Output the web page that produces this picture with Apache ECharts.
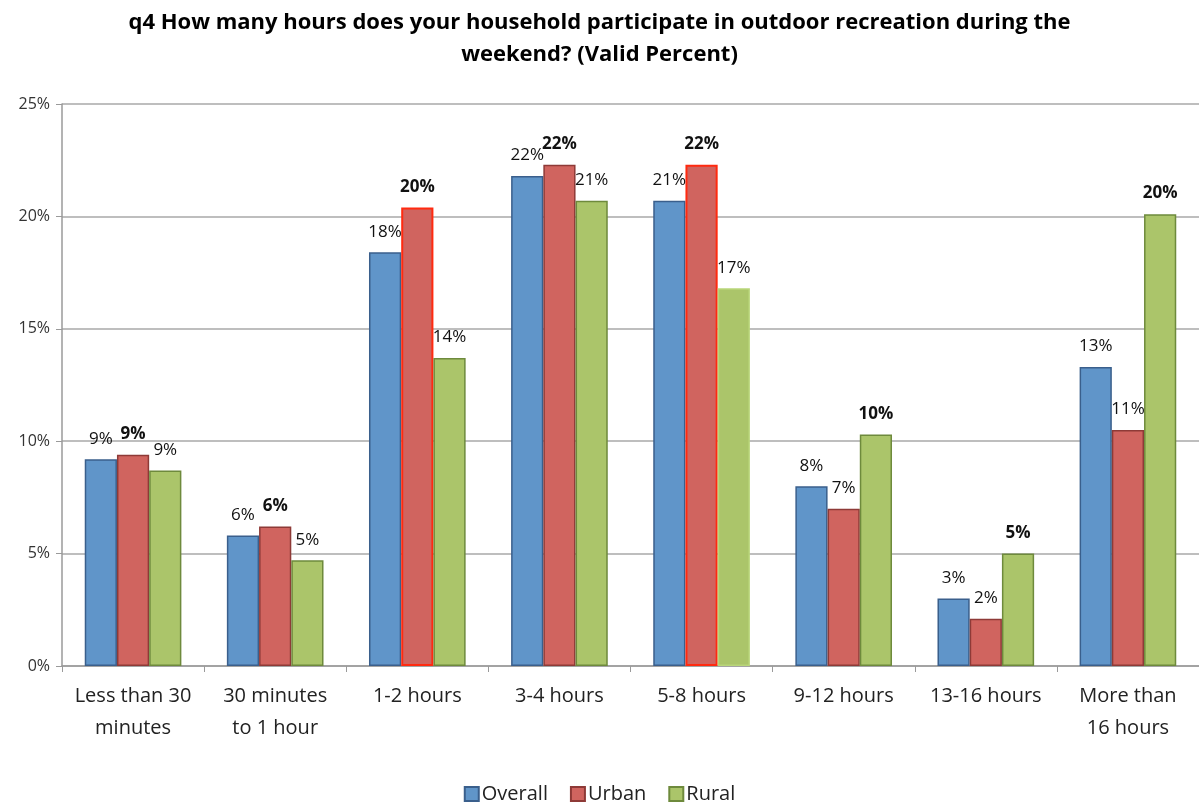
<!DOCTYPE html>
<html>
<head>
<meta charset="utf-8">
<script src="https://cdn.jsdelivr.net/npm/echarts@6/dist/echarts.min.js"></script>
<style>
  html, body { margin: 0; padding: 0; background: #fff; }
  #chart { width: 1199px; height: 806px; }
</style>
</head>
<body>
<div id="chart"></div>
<script>
const categories = ['Less than 30\nminutes', '30 minutes\nto 1 hour', '1-2 hours', '3-4 hours', '5-8 hours', '9-12 hours', '13-16 hours', 'More than\n16 hours']
const overall = [9.2, 5.8, 18.4, 21.8, 20.7, 8.0, 3.0, 13.3]
const urban = [9.4, 6.2, 20.4, 22.3, 22.3, 7.0, 2.1, 10.5]
const rural = [8.7, 4.7, 13.7, 20.7, 16.8, 10.3, 5.0, 20.1]
const yTicks = [0, 5, 10, 15, 20, 25]

const font = '"Open Sans", "Liberation Sans", sans-serif'

// the largest value in each category gets a bold label
const isMax = (i, v) => v >= Math.max(overall[i], urban[i], rural[i])

// bars Excel outlined in bright red / left unframed
const redFrame = [2, 4]
const plainFrame = { rural: [4] }

const buildData = (values, key) => values.map((v, i) => {
  const item = { value: v, label: { fontWeight: isMax(i, v) ? 'bold' : 'normal' } }
  if (key === 'urban' && redFrame.includes(i)) {
    item.itemStyle = { borderColor: '#ff2a10', borderWidth: 2 }
  }
  if (plainFrame[key] && plainFrame[key].includes(i)) {
    item.itemStyle = { borderColor: '#b9d67a', borderWidth: 1.5 }
  }
  return item
})

const seriesDefs = [
  { name: 'Overall', key: 'overall', values: overall, color: '#6095c9', border: '#3a5f8c' },
  { name: 'Urban', key: 'urban', values: urban, color: '#d0645f', border: '#8e3a37' },
  { name: 'Rural', key: 'rural', values: rural, color: '#abc56a', border: '#6e8a3c' },
]

const chart = echarts.init(document.getElementById('chart'))

chart.setOption({
  animation: false,
  textStyle: { fontFamily: font },
  title: {
    text: 'q4 How many hours does your household participate in outdoor recreation during the\nweekend? (Valid Percent)',
    left: 'center',
    top: 2,
    textStyle: { fontSize: 22, fontWeight: 'bold', color: '#000', lineHeight: 32, fontFamily: font },
  },
  legend: {
    bottom: -3,
    left: 'center',
    itemWidth: 14,
    itemHeight: 14,
    itemGap: 22,
    icon: 'rect',
    textStyle: { fontSize: 20, color: '#222', padding: [0, 0, 0, -2] },
    data: seriesDefs.map((s) => s.name),
  },
  grid: { left: 62, right: 0, top: 104, bottom: 140 },
  xAxis: {
    type: 'category',
    data: categories,
    axisLine: { lineStyle: { color: '#9a9a9a', width: 1.5 } },
    axisTick: { show: true, length: 6, lineStyle: { color: '#9a9a9a' } },
    axisLabel: { interval: 0, fontSize: 20, color: '#222', lineHeight: 32, margin: 14 },
  },
  yAxis: {
    type: 'value',
    min: yTicks[0],
    max: yTicks[yTicks.length - 1],
    interval: 5,
    axisLine: { show: true, lineStyle: { color: '#9a9a9a', width: 1.5 } },
    axisTick: { show: true, length: 6, lineStyle: { color: '#9a9a9a' } },
    splitLine: { lineStyle: { color: '#a8a8a8', width: 1.5 } },
    axisLabel: { fontSize: 16, color: '#333', margin: 12, formatter: '{value}%' },
  },
  series: seriesDefs.map((s) => ({
    name: s.name,
    type: 'bar',
    barGap: '0%',
    barCategoryGap: '32%',
    itemStyle: { color: s.color, borderColor: s.border, borderWidth: 1.5 },
    label: {
      show: true,
      position: 'top',
      distance: 12,
      fontSize: 17,
      color: '#111',
      formatter: (p) => Math.round(p.value) + '%',
    },
    data: buildData(s.values, s.key),
  })),
})
</script>
</body>
</html>
